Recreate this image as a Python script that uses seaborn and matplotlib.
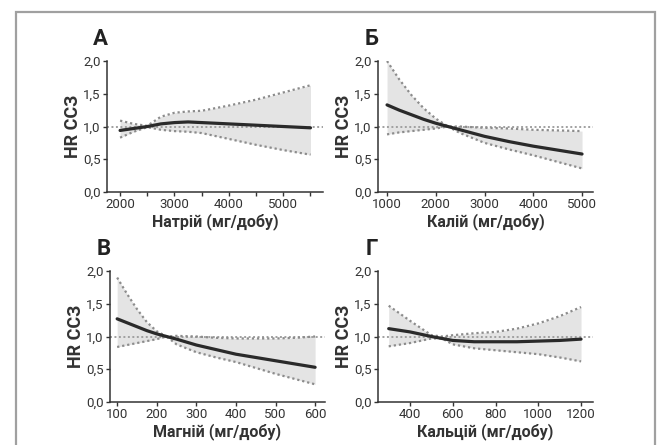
import matplotlib
matplotlib.use('Agg')
import matplotlib.pyplot as plt
import matplotlib.patches as patches
from matplotlib.ticker import MultipleLocator
import pandas as pd
import seaborn as sns

# ---- дані ----
na_x = [2000, 2250, 2500, 2750, 3000, 3250, 3500, 4000, 4500, 5000, 5500]
na_hr = [0.94, 0.97, 1.00, 1.04, 1.06, 1.07, 1.06, 1.04, 1.02, 1.00, 0.98]
na_hi = [1.09, 1.04, 1.01, 1.15, 1.21, 1.23, 1.24, 1.32, 1.41, 1.52, 1.63]
na_lo = [0.83, 0.92, 0.99, 0.95, 0.93, 0.92, 0.90, 0.81, 0.72, 0.64, 0.57]

k_x = [1000, 1250, 1500, 1750, 2000, 2250, 2500, 3000, 3500, 4000, 4500, 5000]
k_hr = [1.33, 1.25, 1.18, 1.11, 1.05, 1.00, 0.95, 0.85, 0.77, 0.70, 0.64, 0.58]
k_hi = [2.00, 1.72, 1.48, 1.28, 1.12, 1.00, 1.00, 0.98, 0.97, 0.95, 0.94, 0.93]
k_lo = [0.88, 0.91, 0.93, 0.95, 0.97, 1.00, 0.90, 0.75, 0.65, 0.56, 0.46, 0.36]

mg_x = [100, 125, 150, 175, 200, 225, 250, 300, 350, 400, 450, 500, 550, 600]
mg_hr = [1.27, 1.21, 1.15, 1.09, 1.04, 1.00, 0.96, 0.87, 0.80, 0.73, 0.68, 0.63, 0.58, 0.53]
mg_hi = [1.90, 1.65, 1.42, 1.22, 1.08, 1.00, 1.01, 1.00, 0.98, 0.97, 0.97, 0.97, 0.98, 1.00]
mg_lo = [0.84, 0.87, 0.90, 0.93, 0.96, 1.00, 0.88, 0.76, 0.68, 0.61, 0.52, 0.43, 0.35, 0.27]

ca_x = [300, 400, 500, 550, 600, 700, 800, 900, 1000, 1100, 1200]
ca_hr = [1.12, 1.07, 1.00, 0.97, 0.94, 0.92, 0.92, 0.92, 0.93, 0.94, 0.96]
ca_hi = [1.47, 1.24, 1.02, 1.00, 1.02, 1.05, 1.07, 1.12, 1.20, 1.31, 1.45]
ca_lo = [0.85, 0.90, 0.97, 0.97, 0.88, 0.82, 0.79, 0.76, 0.73, 0.68, 0.62]

letters = ['А', 'Б', 'В', 'Г']
xlabels = ['Натрій (мг/добу)', 'Калій (мг/добу)', 'Магній (мг/добу)', 'Кальцій (мг/добу)']
y_ticks = [0.0, 0.5, 1.0, 1.5, 2.0]
y_ticklabels = ['0,0', '0,5', '1,0', '1,5', '2,0']

sns.set_style('ticks')
plt.rcParams['font.family'] = ['Roboto', 'DejaVu Sans']

fig = plt.figure(figsize=(6.66, 4.45), dpi=100)

# рамка навколо рисунка
fig.patches.append(patches.Rectangle((0.024, -0.02), 0.96, 0.993, transform=fig.transFigure,
                                     fill=False, edgecolor='#a0a0a0', linewidth=1.6))

panels = [
    dict(x=na_x, hr=na_hr, lo=na_lo, hi=na_hi, pos=[0.1607, 0.5685, 0.3243, 0.2944],
         xlim=(1760, 5730), major=1000, minor=500),
    dict(x=k_x, hr=k_hr, lo=k_lo, hi=k_hi, pos=[0.5676, 0.5685, 0.3228, 0.2944],
         xlim=(815, 5225), major=1000, minor=None),
    dict(x=mg_x, hr=mg_hr, lo=mg_lo, hi=mg_hi, pos=[0.1652, 0.0966, 0.3228, 0.2944],
         xlim=(82, 625), major=100, minor=None),
    dict(x=ca_x, hr=ca_hr, lo=ca_lo, hi=ca_hi, pos=[0.5676, 0.0966, 0.3228, 0.2944],
         xlim=(250, 1256), major=200, minor=None),
]

for i, p in enumerate(panels):
    ax = fig.add_axes(p['pos'])
    df = pd.DataFrame({'x': p['x'], 'hr': p['hr'], 'lo': p['lo'], 'hi': p['hi']})

    ax.fill_between(df['x'], df['lo'], df['hi'], color='#e4e4e4', linewidth=0, zorder=1)
    ax.axhline(1.0, color='#a0a0a0', linestyle=(0, (1, 1.3)), linewidth=1.4, zorder=2)
    sns.lineplot(data=df, x='x', y='hi', ax=ax, color='#8c8c8c', linestyle=(0, (1, 1.3)),
                 linewidth=1.6, zorder=3)
    sns.lineplot(data=df, x='x', y='lo', ax=ax, color='#8c8c8c', linestyle=(0, (1, 1.3)),
                 linewidth=1.6, zorder=3)
    sns.lineplot(data=df, x='x', y='hr', ax=ax, color='#2a2a2a', linewidth=2.3, zorder=4)

    ax.set_xlim(*p['xlim'])
    ax.set_ylim(0, 2.0)
    ax.set_yticks(y_ticks)
    ax.set_yticklabels(y_ticklabels)
    ax.xaxis.set_major_locator(MultipleLocator(p['major']))
    if p['minor']:
        ax.xaxis.set_minor_locator(MultipleLocator(p['minor']))
        ax.tick_params(axis='x', which='minor', length=3, width=1, color='#333333')
    ax.tick_params(axis='both', which='major', labelsize=9.5, length=3, width=1,
                   color='#333333', labelcolor='#333333', pad=1.5)
    sns.despine(ax=ax)
    for s in ['left', 'bottom']:
        ax.spines[s].set_color('#333333')
        ax.spines[s].set_linewidth(1.1)

    ax.set_xlabel(xlabels[i], fontsize=11.5, fontweight='bold', color='#333333', labelpad=1)
    ax.set_ylabel('HR ССЗ', fontsize=13, fontweight='bold', color='#333333', labelpad=1)
    ax.text(-0.03, 1.17, letters[i], transform=ax.transAxes, fontsize=16,
            fontweight='bold', color='#222222', ha='center', va='center')

fig.savefig('out.png', dpi=100)
